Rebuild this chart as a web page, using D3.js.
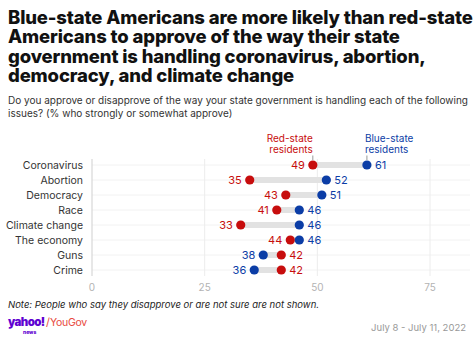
<!DOCTYPE html>
<html>
<head>
<meta charset="utf-8">
<script src="https://cdn.jsdelivr.net/npm/d3@7"></script>
<style>
  body { margin: 0; background: #fff; }
  svg { display: block; font-family: Inter, "Open Sans", sans-serif; }
</style>
</head>
<body>
<svg id="chart" width="474" height="342"></svg>
<script>
// data
const categories = ["Coronavirus", "Abortion", "Democracy", "Race", "Climate change", "The economy", "Guns", "Crime"];
const redValues = [49, 35, 43, 41, 33, 44, 42, 42];
const blueValues = [61, 52, 51, 46, 46, 46, 38, 36];
const tickValues = [0, 25, 50, 75];

const titleLines = [
  "Blue-state Americans are more likely than red-state",
  "Americans to approve of the way their state",
  "government is handling coronavirus, abortion,",
  "democracy, and climate change"
];
const subtitleLines = [
  "Do you approve or disapprove of the way your state government is handling each of the following",
  "issues? (% who strongly or somewhat approve)"
];

const RED = "#c70d0d";
const BLUE = "#0b3da6";

const svg = d3.select("#chart");

// title
svg.append("g").selectAll("text")
  .data(titleLines)
  .enter()
  .append("text")
  .attr("x", 8)
  .attr("y", (d, i) => 24 + i * 19.4)
  .attr("font-size", 18.5)
  .attr("font-weight", 800)
  .attr("fill", "#111")
  .attr("letter-spacing", -0.15)
  .text(d => d);

svg.append("g").selectAll("text")
  .data(subtitleLines)
  .enter()
  .append("text")
  .attr("x", 8)
  .attr("y", (d, i) => 104 + i * 13)
  .attr("font-size", 10)
  .attr("fill", "#333")
  .text(d => d);

// scales
const x = d3.scaleLinear().domain([0, 75]).range([92, 430]);
const y = d3.scalePoint().domain(categories).range([165, 270]);

// row lines
svg.append("g").selectAll("line")
  .data(categories)
  .enter()
  .append("line")
  .attr("x1", x(0)).attr("x2", 470)
  .attr("y1", d => y(d)).attr("y2", d => y(d))
  .attr("stroke", "#f2f2f2")
  .attr("stroke-width", 1);

// grid lines
svg.append("g").selectAll("line")
  .data(tickValues)
  .enter()
  .append("line")
  .attr("x1", d => x(d)).attr("x2", d => x(d))
  .attr("y1", 159).attr("y2", 276)
  .attr("stroke", d => d === 0 ? "#cfcfcf" : "#ececec")
  .attr("stroke-width", 1);

// tick labels
svg.append("g").selectAll("text")
  .data(tickValues)
  .enter()
  .append("text")
  .attr("x", d => x(d))
  .attr("y", 291)
  .attr("text-anchor", "middle")
  .attr("font-size", 10)
  .attr("fill", "#b3b3b3")
  .text(d => d);

// category labels
svg.append("g").selectAll("text")
  .data(categories)
  .enter()
  .append("text")
  .attr("x", 83)
  .attr("y", d => y(d) + 4)
  .attr("text-anchor", "end")
  .attr("font-size", 10.5)
  .attr("fill", "#333")
  .text(d => d);

const rows = categories.map((c, i) => ({ cat: c, red: redValues[i], blue: blueValues[i] }));

// connecting bars
svg.append("g").selectAll("rect")
  .data(rows)
  .enter()
  .append("rect")
  .attr("x", d => x(Math.min(d.red, d.blue)))
  .attr("width", d => Math.abs(x(d.red) - x(d.blue)))
  .attr("y", d => y(d.cat) - 3)
  .attr("height", 6)
  .attr("fill", "#e2e2e2");

// dots + value labels
const series = [
  { key: "red", color: RED },
  { key: "blue", color: BLUE }
];
series.forEach(s => {
  const other = s.key === "red" ? "blue" : "red";
  svg.append("g").selectAll("circle")
    .data(rows)
    .enter()
    .append("circle")
    .attr("cx", d => x(d[s.key]))
    .attr("cy", d => y(d.cat))
    .attr("r", 4.6)
    .attr("fill", s.color);

  svg.append("g").selectAll("text")
    .data(rows)
    .enter()
    .append("text")
    .attr("x", d => d[s.key] >= d[other] ? x(d[s.key]) + 8 : x(d[s.key]) - 8)
    .attr("y", d => y(d.cat) + 4)
    .attr("text-anchor", d => d[s.key] >= d[other] ? "start" : "end")
    .attr("font-size", 11)
    .attr("fill", s.color)
    .text(d => d[s.key]);
});

// legend labels above first row
const first = rows[0];
const legend = [
  { lines: ["Red-state", "residents"], x: x(first.red), anchor: "end", color: RED, dx: 0 },
  { lines: ["Blue-state", "residents"], x: x(first.blue), anchor: "start", color: BLUE, dx: -2 }
];
legend.forEach(l => {
  l.lines.forEach((line, i) => {
    svg.append("text")
      .attr("x", l.x + l.dx)
      .attr("y", 141.5 + i * 11.5)
      .attr("text-anchor", l.anchor)
      .attr("font-size", 10)
      .attr("fill", l.color)
      .text(line);
  });
  svg.append("line")
    .attr("x1", l.x).attr("x2", l.x)
    .attr("y1", 155.5).attr("y2", 160)
    .attr("stroke", "#999")
    .attr("stroke-width", 1);
});

// note
svg.append("text")
  .attr("x", 8)
  .attr("y", 308)
  .attr("font-size", 9.5)
  .attr("font-style", "italic")
  .attr("fill", "#222")
  .text("Note: People who say they disapprove or are not sure are not shown.");

// logo
svg.append("text")
  .attr("x", 8).attr("y", 326)
  .attr("font-size", 11.5)
  .attr("font-weight", 900)
  .attr("fill", "#5f01d1")
  .attr("letter-spacing", -0.6)
  .text("yahoo!");
svg.append("text")
  .attr("x", 23).attr("y", 334)
  .attr("font-size", 5)
  .attr("font-weight", 800)
  .attr("fill", "#5f01d1")
  .text("news");
svg.append("text")
  .attr("x", 46).attr("y", 326)
  .attr("font-size", 11)
  .attr("fill", "#e8493d")
  .text("/");
svg.append("text")
  .attr("x", 50).attr("y", 326)
  .attr("font-size", 10.5)
  .attr("fill", "#e8493d")
  .attr("letter-spacing", -0.3)
  .text("YouGov");

// date
svg.append("text")
  .attr("x", 466)
  .attr("y", 331)
  .attr("text-anchor", "end")
  .attr("font-size", 9.5)
  .attr("fill", "#999")
  .text("July 8 - July 11, 2022");
</script>
</body>
</html>
